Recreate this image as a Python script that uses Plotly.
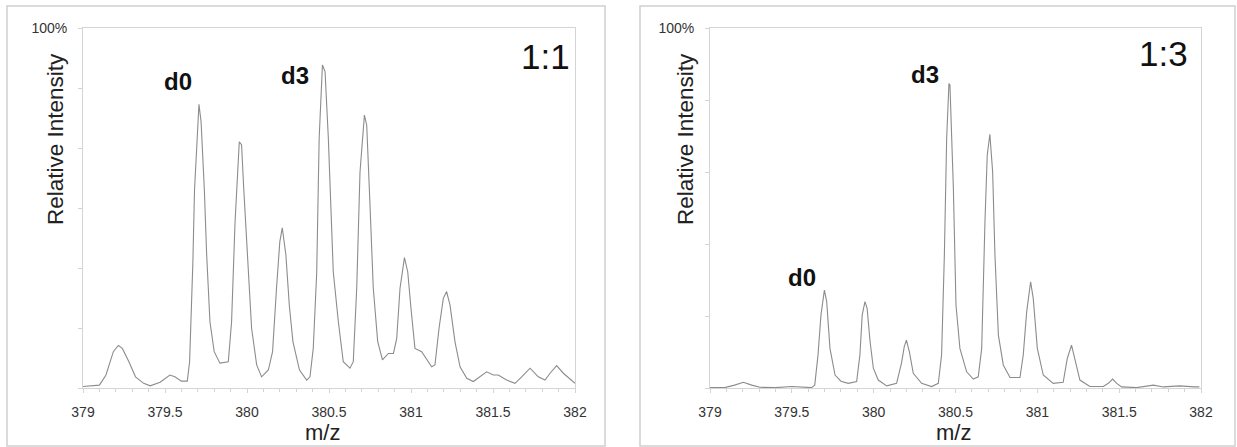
import plotly.graph_objects as go

# ---- spectrum, 1:1 mixture (m/z, relative intensity %) ----
mz_11 = [379.00, 379.10, 379.14, 379.185, 379.215, 379.24, 379.28, 379.32, 379.37, 379.41,
         379.47, 379.53, 379.56, 379.60, 379.636, 379.65, 379.67, 379.68, 379.707, 379.72,
         379.74, 379.754, 379.774, 379.80, 379.835, 379.886, 379.906, 379.927, 379.953, 379.967,
         379.98, 380.008, 380.028, 380.059, 380.089, 380.13, 380.156, 380.18, 380.20, 380.215,
         380.237, 380.258, 380.28, 380.32, 380.364, 380.384, 380.404, 380.425, 380.44, 380.46,
         380.476, 380.496, 380.526, 380.557, 380.587, 380.628, 380.648, 380.669, 380.689, 380.716,
         380.730, 380.75, 380.77, 380.797, 380.826, 380.862, 380.893, 380.913, 380.933, 380.96,
         380.98, 381.0, 381.024, 381.065, 381.096, 381.126, 381.146, 381.171, 381.197, 381.217,
         381.238, 381.268, 381.299, 381.34, 381.38, 381.42, 381.461, 381.502, 381.532, 381.583,
         381.634, 381.675, 381.726, 381.776, 381.817, 381.848, 381.888, 381.929, 381.98, 382.0]
int_11 = [0.4, 0.8, 3.6, 10.1, 11.8, 11.0, 7.3, 3.1, 1.3, 0.6,
          1.6, 3.6, 3.1, 1.9, 1.9, 7.3, 35.0, 55.0, 78.8, 74.0,
          55.0, 37.0, 18.4, 10.1, 6.9, 7.3, 18.4, 46.0, 68.4, 67.5,
          55.5, 32.3, 16.6, 6.4, 3.1, 5.0, 10.1, 27.7, 40.6, 44.5,
          37.0, 23.0, 12.9, 5.0, 2.2, 3.1, 11.0, 32.0, 69.4, 89.7,
          87.9, 69.4, 32.3, 18.4, 7.3, 5.5, 7.3, 27.7, 60.0, 75.8,
          73.0, 50.8, 27.7, 12.9, 7.8, 9.6, 9.6, 13.8, 27.7, 36.2,
          32.3, 22.1, 11.0, 10.1, 7.8, 5.9, 6.4, 16.6, 24.9, 26.8,
          23.0, 12.9, 5.9, 2.7, 1.8, 3.1, 4.5, 3.6, 3.6, 2.2,
          1.3, 3.1, 5.5, 3.1, 2.2, 4.1, 6.2, 4.1, 1.9, 1.3]

# ---- spectrum, 1:3 mixture ----
mz_13 = [379.00, 379.09, 379.15, 379.204, 379.255, 379.305, 379.40, 379.50, 379.62, 379.64,
         379.66, 379.678, 379.699, 379.713, 379.733, 379.764, 379.80, 379.845, 379.896, 379.916,
         379.93, 379.947, 379.96, 379.978, 379.998, 380.028, 380.08, 380.14, 380.17, 380.187,
         380.20, 380.218, 380.242, 380.293, 380.354, 380.395, 380.415, 380.432, 380.446, 380.46,
         380.466, 380.487, 380.503, 380.527, 380.568, 380.609, 380.639, 380.66, 380.68, 380.694,
         380.71, 380.727, 380.741, 380.762, 380.792, 380.833, 380.894, 380.914, 380.935, 380.959,
         380.975, 381.0, 381.036, 381.097, 381.158, 381.183, 381.209, 381.23, 381.26, 381.321,
         381.403, 381.434, 381.46, 381.485, 381.515, 381.607, 381.709, 381.77, 381.87, 381.96,
         381.99]
int_13 = [0.1, 0.1, 0.8, 1.6, 0.8, 0.2, 0.1, 0.4, 0.1, 0.8,
          9.2, 20.3, 27.2, 24.0, 11.0, 3.6, 1.9, 1.3, 1.8, 9.2,
          20.3, 24.0, 22.1, 12.9, 5.5, 2.2, 0.6, 1.3, 6.9, 11.5,
          13.3, 10.1, 4.1, 1.3, 0.4, 1.3, 9.2, 37.0, 69.4, 84.6,
          84.2, 55.5, 23.0, 11.0, 4.5, 2.5, 3.1, 11.0, 46.2, 64.7,
          70.5, 60.0, 37.0, 14.7, 6.4, 2.9, 2.9, 9.2, 21.2, 29.5,
          24.9, 11.0, 3.6, 1.3, 1.6, 8.2, 11.9, 8.2, 2.2, 0.4,
          0.4, 1.3, 2.5, 1.3, 0.3, 0.1, 0.8, 0.3, 0.6, 0.3,
          0.3]

x_tickvals = [379, 379.5, 380, 380.5, 381, 381.5, 382]
x_ticktext = ["379", "379.5", "380", "380.5", "381", "381.5", "382"]
y_ticks_left = [0, 100 / 6, 200 / 6, 50, 400 / 6, 500 / 6, 100]
y_ticks_right = [0, 20, 40, 60, 80, 100]
ratio_labels = ["1:1", "1:3"]

W, H = 1237, 447
FONT = "Liberation Sans, Arial, Helvetica, sans-serif"
LINE = "#8c8c8c"
FRAME = "#d4d4d4"


def px(x):
    return x / W


def py(y):
    return 1 - y / H


fig = go.Figure()
fig.add_trace(go.Scatter(x=mz_11, y=int_11, mode="lines", xaxis="x", yaxis="y",
                         line=dict(color=LINE, width=1.1), hoverinfo="skip", showlegend=False))
fig.add_trace(go.Scatter(x=mz_13, y=int_13, mode="lines", xaxis="x2", yaxis="y2",
                         line=dict(color=LINE, width=1.1), hoverinfo="skip", showlegend=False))

xcommon = dict(range=[379, 382], tickmode="array", tickvals=x_tickvals, ticktext=x_ticktext,
               ticks="outside", ticklen=4, tickcolor=FRAME, showgrid=False, zeroline=False,
               showline=True, linecolor=FRAME, linewidth=1, mirror=True, automargin=False,
               tickfont=dict(family=FONT, size=14, color="#333333"), ticklabelstandoff=7,
               minor=dict(tickmode="linear", dtick=0.1, ticks="outside", ticklen=3,
                          tickcolor=FRAME, showgrid=False))


def ycommon(vals):
    return dict(range=[0, 100], tickmode="array", tickvals=vals,
                ticktext=[""] * (len(vals) - 1) + ["100%"],
                ticks="outside", ticklen=4, tickcolor=FRAME, showgrid=False, zeroline=False,
                showline=True, linecolor=FRAME, linewidth=1, mirror=True, automargin=False,
                tickfont=dict(family=FONT, size=14, color="#333333"), ticklabelstandoff=8)


ydom = [py(388), py(28)]
fig.update_layout(
    template="none",
    width=W, height=H, margin=dict(l=0, r=0, t=0, b=0, pad=0), autosize=False,
    paper_bgcolor="white", plot_bgcolor="white",
    xaxis=dict(domain=[px(83), px(575)], anchor="y", **xcommon),
    yaxis=dict(domain=ydom, anchor="x", **ycommon(y_ticks_left)),
    xaxis2=dict(domain=[px(710), px(1201)], anchor="y2", **xcommon),
    yaxis2=dict(domain=ydom, anchor="x2", **ycommon(y_ticks_right)),
    font=dict(family=FONT),
)

# outer panel frames
for x0, x1 in [(7, 605), (640, 1235)]:
    fig.add_shape(type="rect", xref="paper", yref="paper",
                  x0=px(x0), x1=px(x1), y0=py(446), y1=py(6),
                  line=dict(color="#d0d0d0", width=1.5), layer="below")

ann = []
for cx in [55, 685]:
    ann.append(dict(text="Relative Intensity", x=px(cx), y=py(139), xref="paper", yref="paper",
                    showarrow=False, textangle=-90, xanchor="center", yanchor="middle",
                    font=dict(family=FONT, size=22.5, color="#222222")))
for cx in [322, 953]:
    ann.append(dict(text="m/z", x=px(cx), y=py(432), xref="paper", yref="paper",
                    showarrow=False, xanchor="center", yanchor="middle",
                    font=dict(family=FONT, size=22, color="#222222")))
for cx, cy, lbl in [(545, 56, ratio_labels[0]), (1163, 53, ratio_labels[1])]:
    ann.append(dict(text=lbl, x=px(cx), y=py(cy), xref="paper", yref="paper",
                    showarrow=False, xanchor="center", yanchor="middle",
                    font=dict(family=FONT, size=35, color="#111111")))
# peak labels
for xr, yr, x, y, lbl in [("x", "y", 379.58, 85.2, "d0"), ("x", "y", 380.29, 86.8, "d3"),
                          ("x2", "y2", 379.562, 30.6, "d0"), ("x2", "y2", 380.313, 87.2, "d3")]:
    ann.append(dict(text="<b>%s</b>" % lbl, x=x, y=y, xref=xr, yref=yr, showarrow=False,
                    xanchor="center", yanchor="middle",
                    font=dict(family=FONT, size=24, color="#111111")))
fig.update_layout(annotations=ann)

fig.write_html("out.html")
